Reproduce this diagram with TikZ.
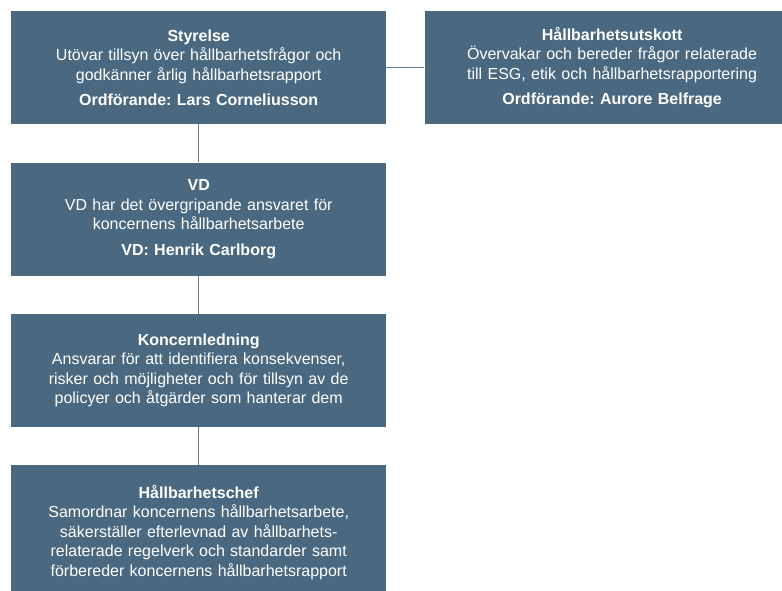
\documentclass[tikz,border=0pt]{standalone}
\usepackage{fontspec}
\setmainfont{Liberation Sans}
\frenchspacing
\usetikzlibrary{positioning}
\definecolor{boxblue}{HTML}{4A6980}
\definecolor{lineblue}{HTML}{5E7E96}
\begin{document}
\begin{tikzpicture}[node distance={38pt}, x=1pt, y=1pt,
    main/.style = {fill=boxblue, text=white, align=center, text width=355pt,
        inner xsep=10pt, inner ysep=0pt, minimum height=113pt,
        font=\fontsize{16}{19.5}\selectfont},
    link/.style = {draw=lineblue, line width=1.2pt}]
        \fill[white] (0,0) rectangle (782,-590);
        \useasboundingbox (0,0) rectangle (782,-590);
        \clip (0,0) rectangle (782,-590);
        \node[main, anchor=north west] (styrelse) at (11,-11) {\textbf{Styrelse}\\
            Utövar tillsyn över hållbarhetsfrågor och\\
            godkänner årlig hållbarhetsrapport\\[6pt]
            \textbf{Ordförande: Lars Corneliusson}};
        \node[main] (utskott) [right=of styrelse] {\textbf{Hållbarhetsutskott}\\
            Övervakar och bereder frågor relaterade\\
            till ESG, etik och hållbarhetsrapportering\\[6pt]
            \textbf{Ordförande: Aurore Belfrage}};
        \node[main] (vd) [below=of styrelse] {\textbf{VD}\\
            VD har det övergripande ansvaret för\\
            koncernens hållbarhetsarbete\\[6pt]
            \textbf{VD: Henrik Carlborg}};
        \node[main] (ledning) [below=of vd] {\textbf{Koncernledning}\\
            Ansvarar för att identifiera konsekvenser,\\
            risker och möjligheter och för tillsyn av de\\
            policyer och åtgärder som hanterar dem};
        \node[main, minimum height=134pt] (chef) [below=of ledning] {\textbf{Hållbarhetschef}\\
            Samordnar koncernens hållbarhetsarbete,\\
            säkerställer efterlevnad av hållbarhets-\\
            relaterade regelverk och standarder samt\\
            förbereder koncernens hållbarhetsrapport};
        \draw[link] (styrelse) -- (utskott);
        \draw[link] (styrelse) -- (vd);
        \draw[link] (vd) -- (ledning);
        \draw[link] (ledning) -- (chef);
    \end{tikzpicture}
\end{document}
